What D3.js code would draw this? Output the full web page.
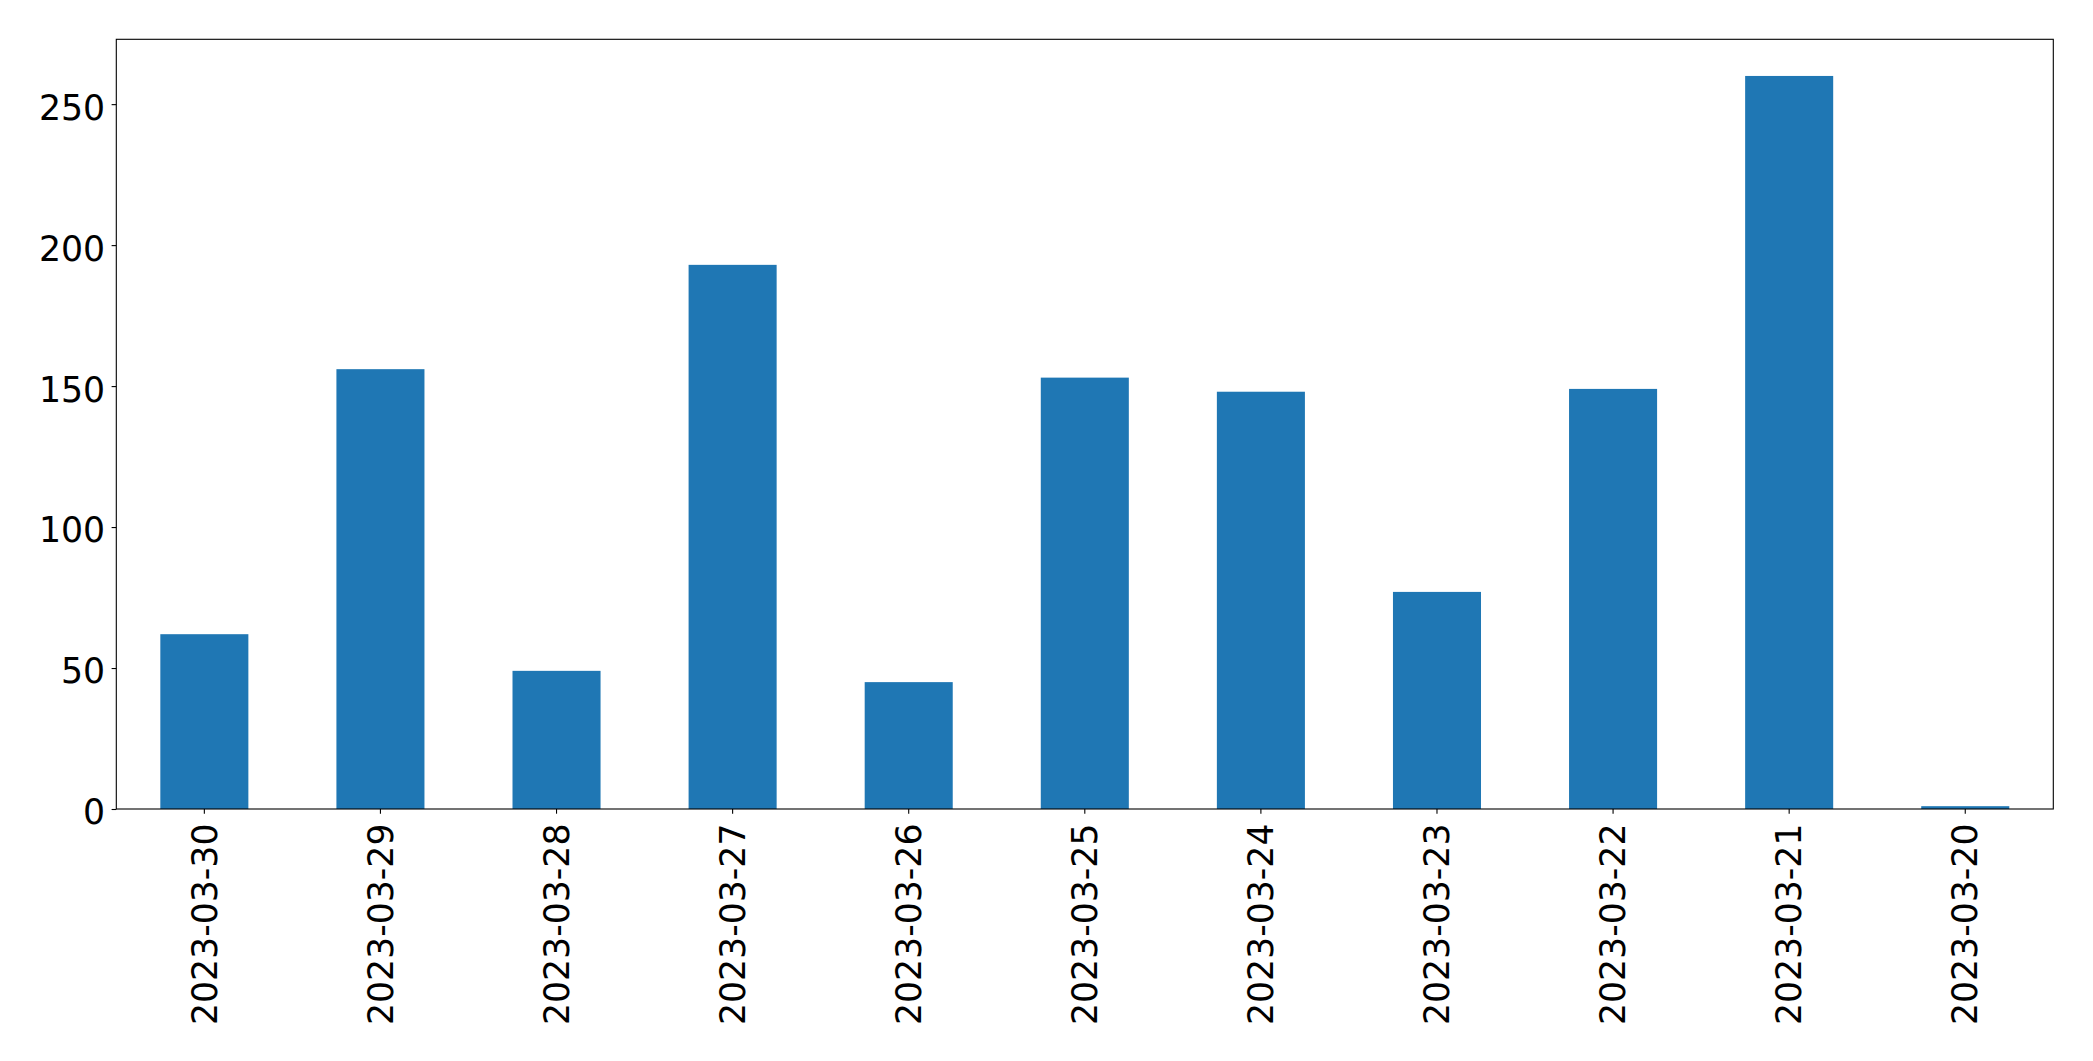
<!DOCTYPE html>
<html>
<head>
<meta charset="utf-8">
<script src="https://cdn.jsdelivr.net/npm/d3@7"></script>
<style>
  html, body { margin: 0; padding: 0; background: #ffffff; }
  svg { display: block; }
  text { font-family: "DejaVu Sans", sans-serif; }
</style>
</head>
<body>
<svg id="chart" width="2093" height="1061"></svg>
<script>
const categories = ["2023-03-30", "2023-03-29", "2023-03-28", "2023-03-27", "2023-03-26",
  "2023-03-25", "2023-03-24", "2023-03-23", "2023-03-22", "2023-03-21", "2023-03-20"];
const values = [62, 156, 49, 193, 45, 153, 148, 77, 149, 260, 1];
const yTicks = [0, 50, 100, 150, 200, 250];

const W = 2093, H = 1061;
const margin = { left: 116.3, top: 39.3, right: W - 2053.3, bottom: H - 809 };
const svg = d3.select("#chart");
const iw = W - margin.left - margin.right;
const ih = H - margin.top - margin.bottom;
const g = svg.append("g").attr("transform", `translate(${margin.left},${margin.top})`);

const x = d3.scaleBand().domain(categories).range([0, iw]).paddingInner(0.5).paddingOuter(0.25);
const y = d3.scaleLinear().domain([0, d3.max(values) * 1.05]).range([ih, 0]);

g.selectAll("rect.bar").data(values).join("rect")
  .attr("class", "bar")
  .attr("x", (d, i) => x(categories[i]))
  .attr("width", x.bandwidth())
  .attr("y", d => y(d))
  .attr("height", d => ih - y(d))
  .attr("fill", "#1f77b4");

const fs = 34.7;
const yAxis = g.append("g")
  .call(d3.axisLeft(y).tickValues(yTicks).tickSize(4.7).tickPadding(6.5).tickFormat(d3.format("d")));
yAxis.select(".domain").remove();
yAxis.selectAll("line").attr("stroke", "#000").attr("stroke-width", 1.1);
yAxis.selectAll("text").attr("font-size", fs).attr("fill", "#000").attr("dy", "0.43em");

const xAxis = g.append("g").attr("transform", `translate(0,${ih})`)
  .call(d3.axisBottom(x).tickSize(4.7).tickPadding(0));
xAxis.select(".domain").remove();
xAxis.selectAll("line").attr("stroke", "#000").attr("stroke-width", 1.1);
xAxis.selectAll("text")
  .attr("font-size", fs).attr("fill", "#000")
  .attr("text-anchor", "end")
  .attr("y", 0).attr("x", 0).attr("dy", "0.35em")
  .attr("transform", "translate(0,14.5) rotate(-90)");

g.append("rect").attr("x", 0).attr("y", 0).attr("width", iw).attr("height", ih)
  .attr("fill", "none").attr("stroke", "#000").attr("stroke-width", 1.1);
</script>
</body>
</html>
